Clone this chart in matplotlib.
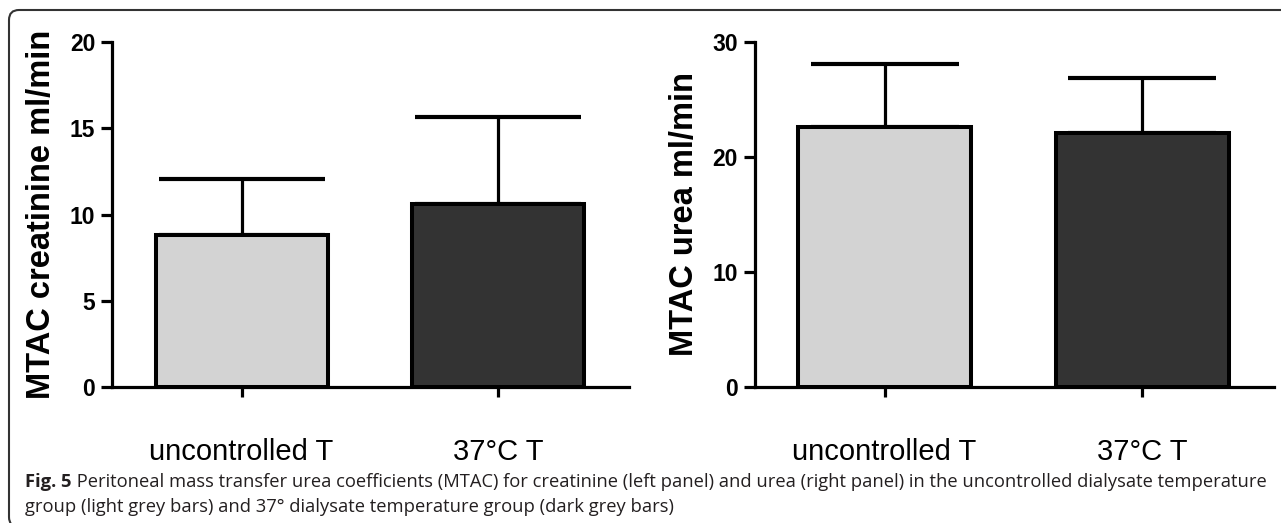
import matplotlib
matplotlib.use("Agg")
import matplotlib.pyplot as plt
from matplotlib.patches import FancyBboxPatch
from matplotlib.transforms import IdentityTransform

# ---- data ----
categories = ["uncontrolled T", "37°C T"]
creat_mean = [8.8, 10.6]
creat_sd = [3.25, 5.05]
urea_mean = [22.6, 22.05]
urea_sd = [5.5, 4.8]
creat_ticks = [0, 5, 10, 15, 20]
urea_ticks = [0, 10, 20, 30]
bar_colors = ["#d3d3d3", "#333333"]
creat_label = "MTAC creatinine ml/min"
urea_label = "MTAC urea ml/min"
caption_bold = "Fig. 5"
caption_line1 = (" Peritoneal mass transfer urea coefficients (MTAC) for creatinine (left panel) "
                 "and urea (right panel) in the uncontrolled dialysate temperature")
caption_line2 = "group (light grey bars) and 37° dialysate temperature group (dark grey bars)"

W, H = 1281, 523
fig = plt.figure(figsize=(W / 100, H / 100), dpi=100)
FONT = ["Liberation Sans", "DejaVu Sans"]


def px_axes(x0, x1, ytop, ybot):
    return fig.add_axes([x0 / W, (H - ybot) / H, (x1 - x0) / W, (ybot - ytop) / H])


def panel(ax, means, sds, ticks, ylabel, capsize):
    x = list(range(len(categories)))
    ax.errorbar(x, means, yerr=[[0] * len(sds), sds], fmt="none", ecolor="black",
                elinewidth=2.3, capsize=capsize, capthick=3.0, zorder=1)
    ax.bar(x, means, width=0.67, color=bar_colors, edgecolor="black",
           linewidth=2.9, zorder=2)
    ax.set_xlim(-0.505, 1.51)
    ax.set_ylim(ticks[0], ticks[-1])
    ax.set_yticks(ticks)
    ax.set_xticks(x)
    ax.set_xticklabels(categories, fontsize=21, family=FONT)
    for lab in ax.get_yticklabels():
        lab.set_fontfamily(FONT)
        lab.set_fontweight("bold")
        lab.set_fontsize(16.5)
    for s in ["top", "right"]:
        ax.spines[s].set_visible(False)
    for s in ["left", "bottom"]:
        ax.spines[s].set_linewidth(2.3)
        ax.spines[s].set_capstyle("projecting")
    ax.tick_params(axis="y", length=8, width=2.3, pad=4)
    ax.tick_params(axis="x", length=7, width=2.3, pad=30)
    ax.set_ylabel(ylabel, fontsize=23.5, fontweight="bold", family=FONT, va="center")
    ax.patch.set_visible(False)


ax1 = px_axes(112, 629, 42, 387)
panel(ax1, creat_mean, creat_sd, creat_ticks, creat_label, 60)
ax1.yaxis.set_label_coords(-70 / 517, 0.5)

ax2 = px_axes(754.5, 1273.7, 42, 387)
panel(ax2, urea_mean, urea_sd, urea_ticks, urea_label, 53)
ax2.yaxis.set_label_coords(-70 / 519, 0.5)

# rounded frame
box = FancyBboxPatch((9, H - 527), 1320, 517, boxstyle="round,pad=0,rounding_size=10",
                     transform=IdentityTransform(), facecolor="none",
                     edgecolor="#333333", linewidth=1.5)
fig.add_artist(box)

# caption
CAP = ["Open Sans", "DejaVu Sans"]
CAPSIZE = 13.25
t_bold = fig.text(25 / W, (H - 487) / H, caption_bold, fontsize=CAPSIZE, fontweight="bold",
                  family=CAP, color="#231f20", ha="left", va="baseline")
ax1.annotate(caption_line1, xy=(1, 0), xycoords=t_bold, ha="left", va="bottom",
             fontsize=CAPSIZE, family=CAP, color="#231f20", annotation_clip=False)
fig.text(25 / W, (H - 512) / H, caption_line2, fontsize=CAPSIZE, family=CAP,
         color="#231f20", ha="left", va="baseline")

fig.savefig("out.png", dpi=100)
